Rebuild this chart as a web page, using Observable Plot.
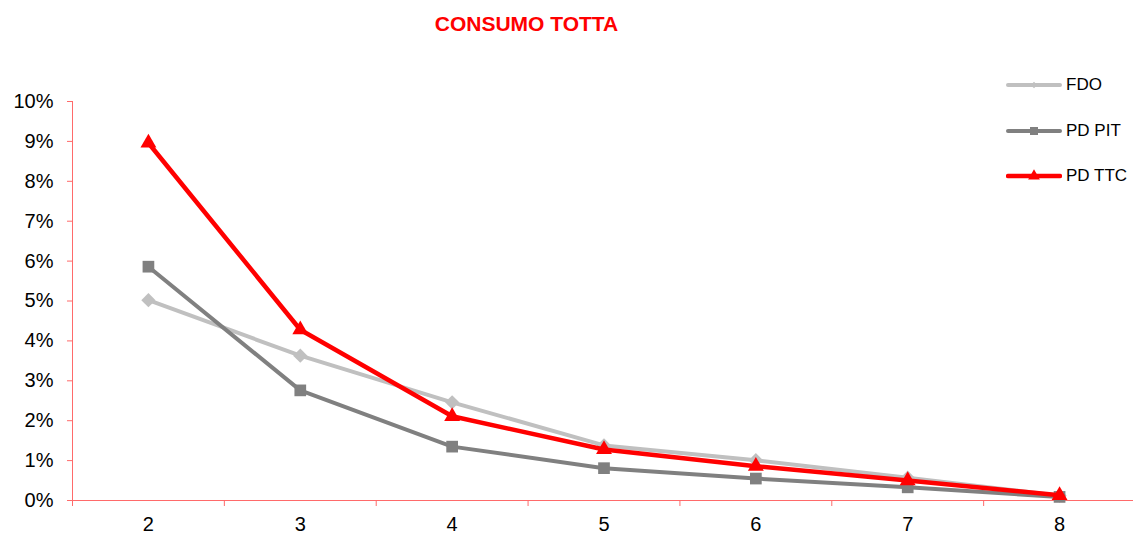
<!DOCTYPE html>
<html>
<head>
<meta charset="utf-8">
<script src="https://cdn.jsdelivr.net/npm/d3@7"></script>
<script src="https://cdn.jsdelivr.net/npm/@observablehq/plot@0.6"></script>
<style>
  html, body { margin: 0; padding: 0; background: #fff; }
  #wrap { position: relative; width: 1133px; height: 536px; font-family: "Liberation Sans", Arial, sans-serif; }
  #title { position: absolute; left: 0; width: 1053px; top: 12px; text-align: center; color: #ff0000; font-weight: bold; font-size: 21px; }
  #legend { position: absolute; left: 1006px; top: 72px; }
  .item { display: flex; align-items: center; height: 26px; margin-bottom: 19.5px; font-size: 17px; color: #000; }
  .item svg { margin-right: 4px; }
  #chart { position: absolute; left: 0; top: 0; }
</style>
</head>
<body>
<div id="wrap">
  <div id="chart"></div>
  <div id="title">CONSUMO TOTTA</div>
  <div id="legend"></div>
</div>
<script>
const categories = [2, 3, 4, 5, 6, 7, 8];
const fdo   = [0.0502, 0.0363, 0.0246, 0.0138, 0.0101, 0.0057, 0.0012];
const pdPit = [0.0586, 0.0276, 0.0135, 0.0081, 0.0055, 0.0033, 0.0009];
const pdTtc = [0.0896, 0.0428, 0.0211, 0.0128, 0.0086, 0.0050, 0.0013];
const yTicks = [0, 0.01, 0.02, 0.03, 0.04, 0.05, 0.06, 0.07, 0.08, 0.09, 0.10];

const squareDiamond = {
  draw(ctx, size) {
    const h = Math.sqrt(size / 2);
    ctx.moveTo(0, -h); ctx.lineTo(h, 0); ctx.lineTo(0, h); ctx.lineTo(-h, 0); ctx.closePath();
  }
};

const seriesDefs = [
  {name: "FDO", values: fdo, color: "#c0c0c0", symbol: squareDiamond, r: 5.7, width: 4, legendSize: 22},
  {name: "PD PIT", values: pdPit, color: "#808080", symbol: d3.symbolSquare, r: 6.6, width: 4, legendSize: 64},
  {name: "PD TTC", values: pdTtc, color: "#ff0000", symbol: d3.symbolTriangle, r: 5.9, width: 4.5, legendSize: 60}
];

const axisColor = "#ff6a6a";
const xMin = categories[0] - 0.5, xMax = categories[categories.length - 1] + 0.5;
const betweenTicks = d3.range(categories.length + 1).map(i => xMin + i);

const marks = [
  Plot.ruleY([0], {stroke: axisColor, strokeWidth: 1}),
  Plot.ruleX([xMin], {stroke: axisColor, strokeWidth: 1}),
  Plot.axisY({ticks: yTicks, tickFormat: d3.format(".0%"), tickSize: 5, tickPadding: 14, stroke: axisColor, fill: "#000", fontSize: 20, label: null}),
  Plot.axisX({ticks: betweenTicks, tickSize: 6, tickFormat: () => "", stroke: axisColor, label: null}),
  Plot.axisX({ticks: categories, tickSize: 0, tickPadding: 16, tickFormat: d => String(d), fill: "#000", fontSize: 20, label: null})
];
for (const s of seriesDefs) {
  const data = categories.map((c, i) => ({x: c, y: s.values[i]}));
  marks.push(Plot.line(data, {x: "x", y: "y", stroke: s.color, strokeWidth: s.width}));
  marks.push(Plot.dot(data, {x: "x", y: "y", symbol: s.symbol, r: s.r, fill: s.color, stroke: "none"}));
}

const chart = Plot.plot({
  width: 1133,
  height: 536,
  marginTop: 101,
  marginBottom: 36,
  marginLeft: 72,
  marginRight: -2,
  style: {fontFamily: "'Liberation Sans', Arial, sans-serif", background: "transparent", overflow: "visible"},
  x: {domain: [xMin, xMax]},
  y: {domain: [0, 0.1]},
  marks
});
document.getElementById("chart").appendChild(chart);

const legend = document.getElementById("legend");
for (const s of seriesDefs) {
  const item = document.createElement("div");
  item.className = "item";
  const sym = d3.symbol(s.symbol, s.legendSize)();
  item.innerHTML = `<svg width="56" height="26"><line x1="2" x2="54" y1="13" y2="13" stroke="${s.color}" stroke-width="${s.width}" stroke-linecap="round"/><path d="${sym}" transform="translate(28,13)" fill="${s.color}"/></svg><span>${s.name}</span>`;
  legend.appendChild(item);
}
</script>
</body>
</html>
